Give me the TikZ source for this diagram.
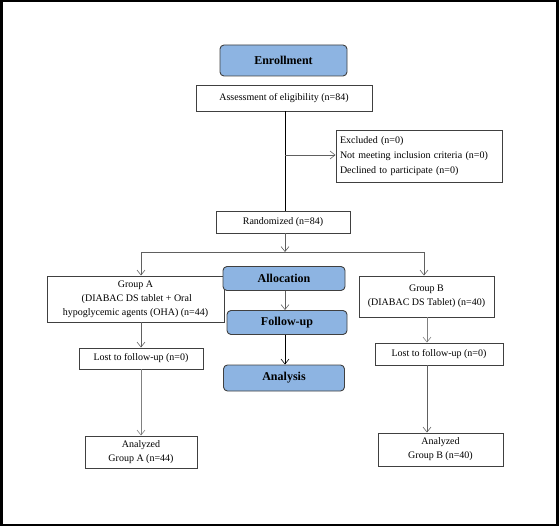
\documentclass[tikz,border=0pt]{standalone}
\usepackage{fontspec}
\setmainfont{Liberation Serif}
\usetikzlibrary{arrows.meta}
\definecolor{stageblue}{HTML}{8DB4E2}
\definecolor{edgegray}{HTML}{404040}
\definecolor{linegray}{HTML}{606060}
\begin{document}
\begin{tikzpicture}[x=1pt,y=-1pt,
  plainbox/.style={draw=edgegray,line width=0.9pt,fill=white,inner sep=0pt,align=center,font=\fontsize{10}{14}\selectfont},
  stagebox/.style={draw=edgegray,line width=0.9pt,fill=stageblue,rounded corners=4pt,inner sep=0pt,font=\fontsize{12}{14}\selectfont\bfseries},
  conn/.style={draw=linegray,line width=0.8pt},
  arr/.style={conn,-{Straight Barb[length=5pt,width=8pt,line width=0.6pt]}}
]
\useasboundingbox (0,0) rectangle (560,527);
\draw[line width=2.5pt] (1.25,1.25) rectangle (557.5,525);

\node[stagebox,minimum width=127pt,minimum height=31pt] (enr) at (283.5,60.5) {Enrollment};
\node[plainbox,minimum width=176pt,minimum height=26pt] (assess) at (284,98) {Assessment of eligibility (n=84)};
\node[plainbox,minimum width=166pt,minimum height=52pt,align=left,text width=158pt,font=\fontsize{10}{15}\selectfont] (excl) at (419,156)
  {Excluded (n=0)\\Not meeting inclusion criteria (n=0)\\Declined to participate (n=0)};
\node[plainbox,minimum width=134pt,minimum height=22pt] (rand) at (283,222) {Randomized (n=84)};

\node[plainbox,minimum width=177pt,minimum height=46pt] (grpA) at (135.5,299)
  {Group A\\\ (DIABAC DS tablet + Oral\\hypoglycemic agents (OHA) (n=44)};
\node[plainbox,minimum width=135pt,minimum height=41pt] (grpB) at (426.5,296.5)
  {Group B\\(DIABAC DS Tablet) (n=40)};

\node[stagebox,minimum width=122pt,minimum height=24pt] (alloc) at (284,278.5) {Allocation};
\node[stagebox,minimum width=120pt,minimum height=24pt] (follow) at (287,322.5) {Follow-up};
\node[stagebox,minimum width=121pt,minimum height=26pt] (analysis) at (284,378) {Analysis};

\node[plainbox,minimum width=124pt,minimum height=21pt] (lostA) at (141,358.5) {Lost to follow-up (n=0)};
\node[plainbox,minimum width=128pt,minimum height=22pt] (lostB) at (439,354) {Lost to follow-up (n=0)};
\node[plainbox,minimum width=112pt,minimum height=32pt] (anaA) at (141,452) {Analyzed\\Group A (n=44)};
\node[plainbox,minimum width=125pt,minimum height=33pt] (anaB) at (440.5,449.5) {Analyzed\\Group B (n=40)};

% spine
\coordinate (jx) at (285,155);
\coordinate (split) at (285,252);
\coordinate (sa) at (141,252);
\coordinate (sb) at (424,252);
\coordinate (ba) at (141,0);
\coordinate (bb) at (427,0);
\coordinate (mid) at (285,0);

\draw[conn,draw=black] (mid |- assess.south) -- (mid |- rand.north);
\draw[arr] (jx) -- (excl.west |- jx);
\draw[arr] (mid |- rand.south) -- (split);
\draw[conn] (sa) -- (sb);
\draw[arr] (sa) -- (sa |- grpA.north);
\draw[arr] (sb) -- (sb |- grpB.north);

\draw[arr] (mid |- alloc.south) -- (mid |- follow.north);
\draw[arr,draw=black] (mid |- follow.south) -- (mid |- analysis.north);

\draw[arr] (ba |- grpA.south) -- (ba |- lostA.north);
\draw[arr,draw=gray] (ba |- lostA.south) -- (ba |- anaA.north);
\draw[arr,draw=gray] (bb |- grpB.south) -- (bb |- lostB.north);
\draw[arr] (bb |- lostB.south) -- (bb |- anaB.north);
\end{tikzpicture}
\end{document}
